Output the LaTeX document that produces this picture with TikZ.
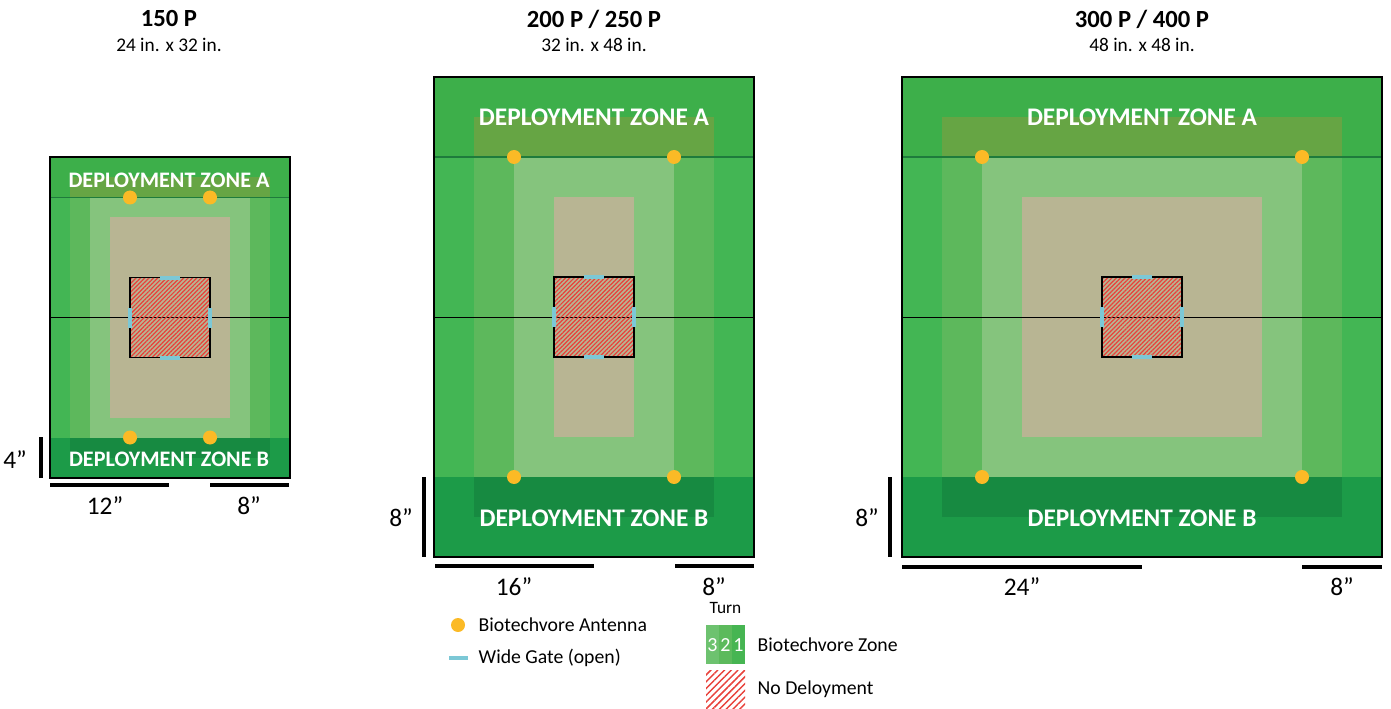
\documentclass[tikz,border=0pt]{standalone}
\usepackage{fontspec}
\setmainfont{Carlito}
\usetikzlibrary{patterns.meta}

\definecolor{turnone}{HTML}{43B654}
\definecolor{turntwo}{HTML}{5DB85C}
\definecolor{turnthree}{HTML}{85C47D}
\definecolor{tanzone}{HTML}{B8B593}
\definecolor{zoneAout}{HTML}{3DAF4A}
\definecolor{zoneAin}{HTML}{66A544}
\definecolor{zoneBout}{HTML}{1C9B48}
\definecolor{zoneBin}{HTML}{178A41}
\definecolor{zoneline}{HTML}{1E7B3C}
\definecolor{antcol}{HTML}{FBBA26}
\definecolor{gatecol}{HTML}{7CC8D6}
\definecolor{hatchred}{HTML}{E8413A}
\definecolor{legthree}{HTML}{6DC26F}
\definecolor{legtwo}{HTML}{5CBA5C}
\definecolor{legone}{HTML}{46B552}

\tikzset{
  titletext/.style={font=\bfseries\fontsize{18.5}{18}\selectfont},
  sizetext/.style={font=\fontsize{14.5}{14}\selectfont},
  zonetext/.style={text=white, font=\bfseries\fontsize{19}{18}\selectfont},
  zonesmall/.style={text=white, font=\bfseries\fontsize{16.6}{16}\selectfont},
  dimtext/.style={inner sep=0.5pt, font=\fontsize{19}{19}\selectfont},
  legtext/.style={anchor=west, font=\fontsize{14.8}{14}\selectfont},
  dimbar/.style={line width=3pt},
  gate/.style={gatecol, line width=3pt},
  antenna/.style={circle, fill=antcol, inner sep=0pt, minimum size=10.5pt},
  nodeploy/.style={pattern={Lines[angle=45,distance=2.3pt,line width=0.9pt]}, pattern color=hatchred},
}

\begin{document}
\begin{tikzpicture}[x=7.5pt, y=-7.5pt]
\useasboundingbox (0,0) rectangle (139.1,70.9);

% ---------- 150 P board ----------
\node[titletext] (t150) at (16.9,1.9) {150 P};
\node[sizetext] (s150) at (16.9,4.5) {24 in. x 32 in.};
\fill[turnone] (5,15.75) rectangle (29,47.75);
\fill[turntwo] (7,17.75) rectangle (27,45.75);
\fill[turnthree] (9,19.75) rectangle (25,43.75);
\fill[tanzone] (11,21.75) rectangle (23,41.75);
% deployment zones
\fill[zoneAout] (5,15.75) rectangle (29,19.75);
\fill[zoneAin] (7,17.75) rectangle (27,19.75);
\fill[zoneBout] (5,43.75) rectangle (29,47.75);
\fill[zoneBin] (7,43.75) rectangle (27,45.75);
\draw[zoneline, line width=0.8pt] (5,19.75) -- (29,19.75);
\draw[line width=0.7pt] (5,31.75) -- (29,31.75);
% no deployment
\fill[nodeploy] (13,27.75) rectangle (21,35.75);
\draw[line width=1.2pt] (13,27.75) rectangle (21,35.75);
\draw[gate] (16,27.75) -- (18,27.75);
\draw[gate] (16,35.75) -- (18,35.75);
\draw[gate] (13,30.75) -- (13,32.75);
\draw[gate] (21,30.75) -- (21,32.75);
\draw[line width=1.5pt] (5,15.75) rectangle (29,47.75);
% antennas
\node[antenna] (a1) at (13,19.75) {};
\node[antenna] (a2) at (21,19.75) {};
\node[antenna] (a3) at (13,43.75) {};
\node[antenna] (a4) at (21,43.75) {};
\node[zonesmall] (zA1) at (16.9,18.0) {DEPLOYMENT ZONE A};
\node[zonesmall] (zB1) at (16.9,45.9) {DEPLOYMENT ZONE B};
% dimensions
\draw[dimbar] (4.1,43.7) -- (4.1,47.8);
\node[dimtext] (d4) at (1.5,46.0) {4”};
\draw[dimbar] (5,48.5) -- (16.9,48.5);
\node[dimtext] (d12) at (10.5,50.6) {12”};
\draw[dimbar] (21,48.5) -- (28.9,48.5);
\node[dimtext] (d8a) at (24.9,50.6) {8”};

% ---------- 200 P / 250 P board ----------
\node[titletext] (t200) at (59.4,1.9) {200 P / 250 P};
\node[sizetext] (s200) at (59.4,4.5) {32 in. x 48 in.};
\fill[turnone] (43.4,7.7) rectangle (75.4,55.7);
\fill[turntwo] (47.4,11.7) rectangle (71.4,51.7);
\fill[turnthree] (51.4,15.7) rectangle (67.4,47.7);
\fill[tanzone] (55.4,19.7) rectangle (63.4,43.7);
% deployment zones
\fill[zoneAout] (43.4,7.7) rectangle (75.4,15.7);
\fill[zoneAin] (47.4,11.7) rectangle (71.4,15.7);
\fill[zoneBout] (43.4,47.7) rectangle (75.4,55.7);
\fill[zoneBin] (47.4,47.7) rectangle (71.4,51.7);
\draw[zoneline, line width=0.8pt] (43.4,15.7) -- (75.4,15.7);
\draw[line width=0.7pt] (43.4,31.7) -- (75.4,31.7);
% no deployment
\fill[nodeploy] (55.4,27.7) rectangle (63.4,35.7);
\draw[line width=1.2pt] (55.4,27.7) rectangle (63.4,35.7);
\draw[gate] (58.4,27.7) -- (60.4,27.7);
\draw[gate] (58.4,35.7) -- (60.4,35.7);
\draw[gate] (55.4,30.7) -- (55.4,32.7);
\draw[gate] (63.4,30.7) -- (63.4,32.7);
\draw[line width=1.5pt] (43.4,7.7) rectangle (75.4,55.7);
% antennas
\node[antenna] (b1) at (51.4,15.7) {};
\node[antenna] (b2) at (67.4,15.7) {};
\node[antenna] (b3) at (51.4,47.7) {};
\node[antenna] (b4) at (67.4,47.7) {};
\node[zonetext] (zA2) at (59.4,11.7) {DEPLOYMENT ZONE A};
\node[zonetext] (zB2) at (59.4,51.8) {DEPLOYMENT ZONE B};
% dimensions
\draw[dimbar] (42.4,47.7) -- (42.4,55.7);
\node[dimtext] (d8b) at (40.1,51.8) {8”};
\draw[dimbar] (43.5,56.6) -- (59.4,56.6);
\node[dimtext] (d16) at (51.4,58.7) {16”};
\draw[dimbar] (67.5,56.6) -- (75.4,56.6);
\node[dimtext] (d8c) at (71.4,58.7) {8”};

% ---------- 300 P / 400 P board ----------
\node[titletext] (t300) at (114.2,1.9) {300 P / 400 P};
\node[sizetext] (s300) at (114.2,4.5) {48 in. x 48 in.};
\fill[turnone] (90.2,7.7) rectangle (138.2,55.7);
\fill[turntwo] (94.2,11.7) rectangle (134.2,51.7);
\fill[turnthree] (98.2,15.7) rectangle (130.2,47.7);
\fill[tanzone] (102.2,19.7) rectangle (126.2,43.7);
% deployment zones
\fill[zoneAout] (90.2,7.7) rectangle (138.2,15.7);
\fill[zoneAin] (94.2,11.7) rectangle (134.2,15.7);
\fill[zoneBout] (90.2,47.7) rectangle (138.2,55.7);
\fill[zoneBin] (94.2,47.7) rectangle (134.2,51.7);
\draw[zoneline, line width=0.8pt] (90.2,15.7) -- (138.2,15.7);
\draw[line width=0.7pt] (90.2,31.7) -- (138.2,31.7);
% no deployment
\fill[nodeploy] (110.2,27.7) rectangle (118.2,35.7);
\draw[line width=1.2pt] (110.2,27.7) rectangle (118.2,35.7);
\draw[gate] (113.2,27.7) -- (115.2,27.7);
\draw[gate] (113.2,35.7) -- (115.2,35.7);
\draw[gate] (110.2,30.7) -- (110.2,32.7);
\draw[gate] (118.2,30.7) -- (118.2,32.7);
\draw[line width=1.5pt] (90.2,7.7) rectangle (138.2,55.7);
% antennas
\node[antenna] (c1) at (98.2,15.7) {};
\node[antenna] (c2) at (130.2,15.7) {};
\node[antenna] (c3) at (98.2,47.7) {};
\node[antenna] (c4) at (130.2,47.7) {};
\node[zonetext] (zA3) at (114.2,11.7) {DEPLOYMENT ZONE A};
\node[zonetext] (zB3) at (114.2,51.8) {DEPLOYMENT ZONE B};
% dimensions
\draw[dimbar] (89.0,47.7) -- (89.0,55.7);
\node[dimtext] (d8d) at (86.7,51.8) {8”};
\draw[dimbar] (90.2,56.7) -- (114.2,56.7);
\node[dimtext] (d24) at (102.2,58.7) {24”};
\draw[dimbar] (130.2,56.7) -- (138.2,56.7);
\node[dimtext] (d8e) at (134.2,58.7) {8”};

% ---------- legend ----------
\node[antenna] (lant) at (45.8,62.5) {};
\node[legtext] (lanttext) at (47.4,62.5) {Biotechvore Antenna};
\draw[gate] (44.9,65.8) -- (46.8,65.8);
\node[legtext] (lgatetext) at (47.4,65.8) {Wide Gate (open)};
\node[inner sep=0.5pt, font=\fontsize{13}{13}\selectfont] (lturn) at (72.55,60.8) {Turn};
\fill[legthree] (70.6,62.5) rectangle (71.9,66.4);
\fill[legtwo] (71.9,62.5) rectangle (73.2,66.4);
\fill[legone] (73.2,62.5) rectangle (74.5,66.4);
\node[text=white, font=\fontsize{15}{15}\selectfont] (l3) at (71.25,64.5) {3};
\node[text=white, font=\fontsize{15}{15}\selectfont] (l2) at (72.55,64.5) {2};
\node[text=white, font=\fontsize{15}{15}\selectfont] (l1) at (73.85,64.5) {1};
\node[legtext] (lzonetext) at (75.3,64.5) {Biotechvore Zone};
\fill[pattern={Lines[angle=45,distance=3.6pt,line width=1.1pt]}, pattern color=hatchred] (70.6,67.0) rectangle (74.5,70.9);
\node[legtext] (lnotext) at (75.3,68.9) {No Deloyment};
\end{tikzpicture}
\end{document}
